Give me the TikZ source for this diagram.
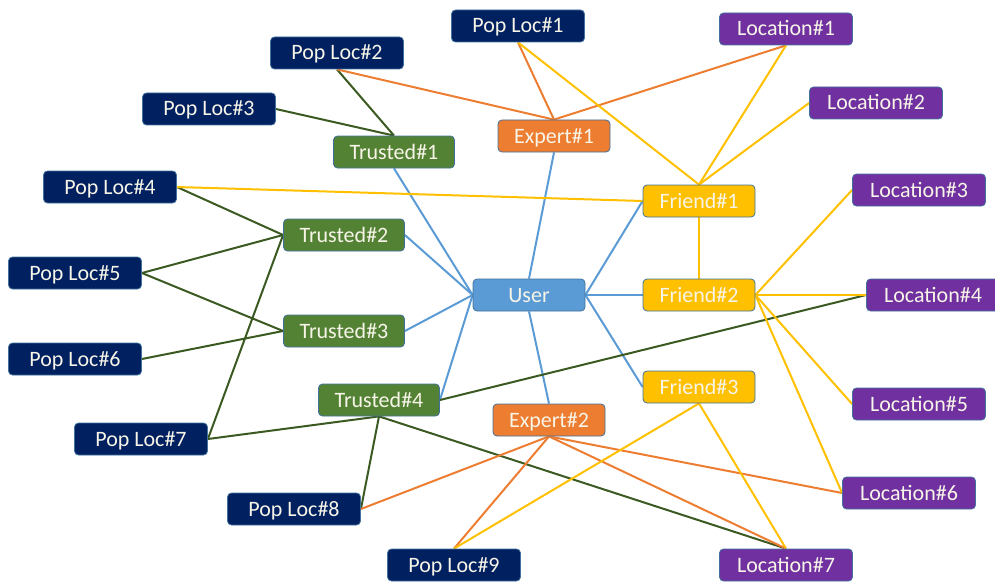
\documentclass[tikz,border=0pt]{standalone}
\usepackage{fontspec}
\setmainfont{Carlito}
\usetikzlibrary{backgrounds}
\definecolor{kn}{HTML}{002060}
\definecolor{kp}{HTML}{7030A0}
\definecolor{kg}{HTML}{548235}
\definecolor{ko}{HTML}{ED7D31}
\definecolor{ky}{HTML}{FFC000}
\definecolor{kb}{HTML}{5B9BD5}
\definecolor{ke}{HTML}{41719C}
\definecolor{kl}{HTML}{3B5A22}
\definecolor{kt}{HTML}{F7F4E8}
\begin{document}
\begin{tikzpicture}[x=1pt,y=-1pt,
  box/.style={draw=ke,line width=0.8pt,rounded corners=4pt,minimum height=32pt,
    inner sep=0pt,text height=14pt,text depth=0pt,text=kt,font=\fontsize{22}{24}\selectfont},
  poploc/.style={box,fill=kn,minimum width=133pt},
  location/.style={box,fill=kp,minimum width=133pt},
  trusted/.style={box,fill=kg,minimum width=121pt},
  expert/.style={box,fill=ko,minimum width=112pt},
  friend/.style={box,fill=ky,minimum width=112pt},
  usr/.style={box,fill=kb,minimum width=112pt},
  link/.style={line width=2pt}]
  \useasboundingbox (0,0) rectangle (995,583);

  % The user in the middle
  \node[usr] (user) at (529,295) {User};

  % Trusted, experts and friends
  \node[trusted] (tr1) at (394,152) {Trusted\#1};
  \node[trusted] (tr2) at (344,235) {Trusted\#2};
  \node[trusted] (tr3) at (344,331) {Trusted\#3};
  \node[trusted] (tr4) at (379,400) {Trusted\#4};
  \node[expert] (ex1) at (554,136) {Expert\#1};
  \node[expert] (ex2) at (549,420) {Expert\#2};
  \node[friend] (fr1) at (699,201) {Friend\#1};
  \node[friend] (fr2) at (699,295) {Friend\#2};
  \node[friend] (fr3) at (699,387) {Friend\#3};

  % Popular locations (left) and locations (right)
  \node[poploc] (pl1) at (518,26) {Pop Loc\#1};
  \node[poploc] (pl2) at (337,53) {Pop Loc\#2};
  \node[poploc] (pl3) at (209,109) {Pop Loc\#3};
  \node[poploc] (pl4) at (110,187) {Pop Loc\#4};
  \node[poploc] (pl5) at (75,273) {Pop Loc\#5};
  \node[poploc] (pl6) at (75,359) {Pop Loc\#6};
  \node[poploc] (pl7) at (141,439) {Pop Loc\#7};
  \node[poploc] (pl8) at (294,509) {Pop Loc\#8};
  \node[poploc] (pl9) at (454,565) {Pop Loc\#9};
  \node[location] (loc1) at (786,29) {Location\#1};
  \node[location] (loc2) at (876,103) {Location\#2};
  \node[location] (loc3) at (919,190) {Location\#3};
  \node[location] (loc4) at (933,295) {Location\#4};
  \node[location] (loc5) at (919,404) {Location\#5};
  \node[location] (loc6) at (909,493) {Location\#6};
  \node[location] (loc7) at (786,565) {Location\#7};

  \begin{pgfonlayer}{background}
    % User links
    \foreach \a/\b in {tr1.south/user.west, tr2.east/user.west, tr3.east/user.west,
        tr4.east/user.west, ex1.south/user.north, ex2.north/user.south,
        fr1.west/user.east, fr2.west/user.east, fr3.west/user.east}
      \draw[link,kb] (\a) -- (\b);

    % Trusted links
    \foreach \a/\b in {tr1.north/pl2.south, tr1.north/pl3.east, tr2.west/pl4.east,
        tr2.west/pl5.east, tr2.west/pl7.east, tr3.west/pl5.east, tr3.west/pl6.east,
        tr4.south/pl7.east, tr4.south/pl8.east, tr4.south/loc7.north, tr4.east/loc4.west}
      \draw[link,kl] (\a) -- (\b);

    % Expert links
    \foreach \a/\b in {ex1.north/pl1.south, ex1.north/pl2.south, ex1.north/loc1.south,
        ex2.south/pl8.east, ex2.south/pl9.north, ex2.south/loc6.west, ex2.south/loc7.north}
      \draw[link,ko] (\a) -- (\b);

    % Friend links
    \foreach \a/\b in {fr1.north/pl1.south, fr1.north/loc1.south, fr1.north/loc2.west,
        fr1.west/pl4.east, fr1.south/fr2.north, fr2.east/loc3.west, fr2.east/loc4.west,
        fr2.east/loc5.west, fr2.east/loc6.west, fr3.south/pl9.north, fr3.south/loc7.north}
      \draw[link,ky] (\a) -- (\b);
  \end{pgfonlayer}
\end{tikzpicture}
\end{document}
